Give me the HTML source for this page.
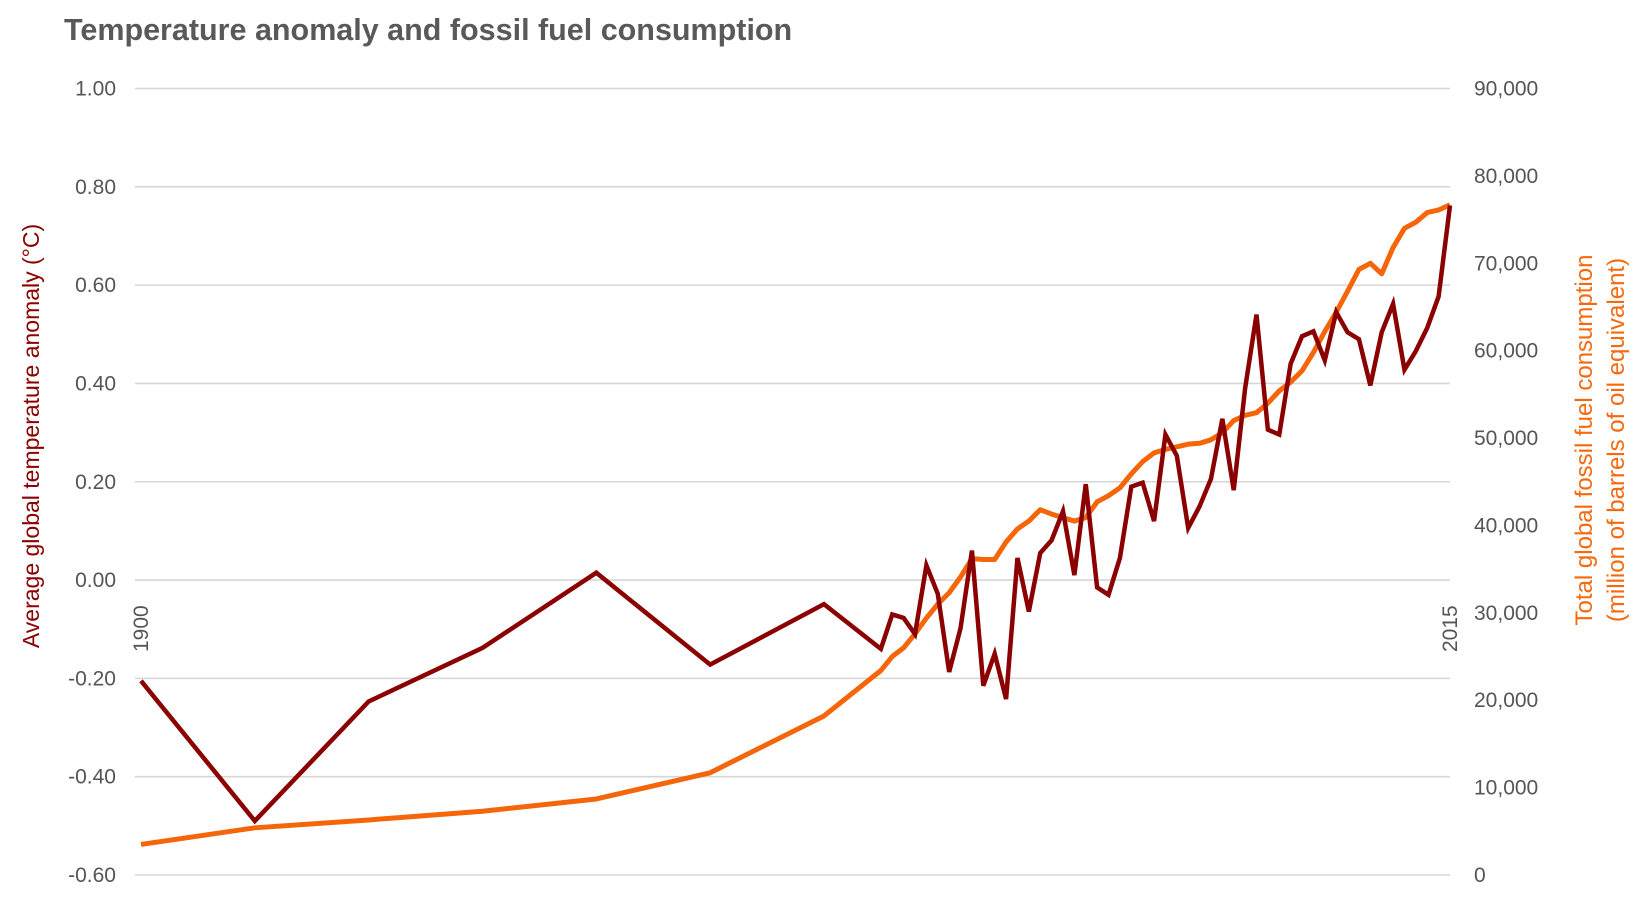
<!DOCTYPE html>
<html><head><meta charset="utf-8"><style>
body{margin:0;background:#fff;}
svg{display:block;font-family:"Liberation Sans",sans-serif;}
</style></head><body>
<svg id="chart" width="1640" height="902">
<text x="64" y="40" font-size="30.5" font-weight="bold" fill="#595959">Temperature anomaly and fossil fuel consumption</text>
<g id="grid"></g><g id="lines"></g><g id="labels"></g>
<text transform="translate(39,436) rotate(-90)" text-anchor="middle" font-size="23" fill="#8b0000">Average global temperature anomaly (°C)</text>
<text transform="translate(1592,440) rotate(-90)" text-anchor="middle" font-size="24" fill="#f56a0f">Total global fossil fuel consumption</text>
<text transform="translate(1624,440) rotate(-90)" text-anchor="middle" font-size="24" fill="#f56a0f">(million of barrels of oil equivalent)</text>
</svg>
<script>
const years=[1900,1910,1920,1930,1940,1950,1960,1965,1966,1967,1968,1969,1970,1971,1972,1973,1974,1975,1976,1977,1978,1979,1980,1981,1982,1983,1984,1985,1986,1987,1988,1989,1990,1991,1992,1993,1994,1995,1996,1997,1998,1999,2000,2001,2002,2003,2004,2005,2006,2007,2008,2009,2010,2011,2012,2013,2014,2015];
const tempAnomaly=[-0.205,-0.49,-0.247,-0.138,0.015,-0.172,-0.049,-0.14,-0.07,-0.077,-0.11,0.03,-0.028,-0.187,-0.098,0.06,-0.215,-0.15,-0.242,0.045,-0.064,0.055,0.081,0.14,0.01,0.195,-0.015,-0.03,0.045,0.19,0.198,0.12,0.296,0.253,0.106,0.15,0.206,0.328,0.183,0.39,0.54,0.306,0.296,0.44,0.496,0.506,0.447,0.545,0.504,0.49,0.396,0.504,0.562,0.428,0.466,0.513,0.577,0.762];
const fossilFuel=[3500,5400,6300,7300,8700,11700,18200,23400,25000,26000,27600,29400,31000,32300,34100,36200,36100,36100,38100,39600,40500,41800,41300,40900,40500,40900,42700,43400,44300,45900,47300,48300,48700,49000,49300,49400,49800,50600,52000,52600,52900,54000,55400,56400,57700,59800,62200,64400,66800,69300,70000,68800,71800,74000,74700,75800,76100,76700];
const leftTicks=["1.00","0.80","0.60","0.40","0.20","0.00","-0.20","-0.40","-0.60"];
const rightTicks=["90,000","80,000","70,000","60,000","50,000","40,000","30,000","20,000","10,000","0"];
const NS="http://www.w3.org/2000/svg";
const L=141,R=1450,T=88.5,B=875;
const x=y=>L+(y-1900)/(2015-1900)*(R-L);
const yT=v=>B-(v+0.6)/1.6*(B-T);
const yF=v=>B-v/90000*(B-T);
function mk(tag,parent,attrs){const e=document.createElementNS(NS,tag);for(const k in attrs)e.setAttribute(k,attrs[k]);document.getElementById(parent).appendChild(e);return e;}
leftTicks.forEach((t,i)=>{const v=parseFloat(t);const yy=yT(v);
 const g=mk('line','grid',{x1:L-6,x2:R,y1:yy,y2:yy,stroke:'#d6d6d6','stroke-width':1.6});
 
 
 const tx=mk('text','labels',{x:116,y:yy+7,'text-anchor':'end','font-size':21,fill:'#555'});tx.textContent=t;
 
 
});
rightTicks.forEach(t=>{const v=parseFloat(t.replace(/,/g,''));const yy=yF(v);
 const tx=mk('text','labels',{x:1474,y:yy+7,'font-size':21,fill:'#555'});tx.textContent=t;
 
 
});
[[1900,'1900'],[2015,'2015']].forEach(([yr,t])=>{const tx=mk('text','labels',{transform:`translate(${x(yr)+7},${652}) rotate(-90)`,'font-size':21,fill:'#555'});tx.textContent=t;
 
 
});
const pf=mk('polyline','lines',{points:years.map((yr,i)=>x(yr)+','+yF(fossilFuel[i])).join(' '),fill:'none',stroke:'#f5650a','stroke-width':5,'stroke-linejoin':'round'});


const pt=mk('polyline','lines',{points:years.map((yr,i)=>x(yr)+','+yT(tempAnomaly[i])).join(' '),fill:'none',stroke:'#8b0000','stroke-width':4.5,'stroke-linejoin':'miter'});


</script>
</body></html>
